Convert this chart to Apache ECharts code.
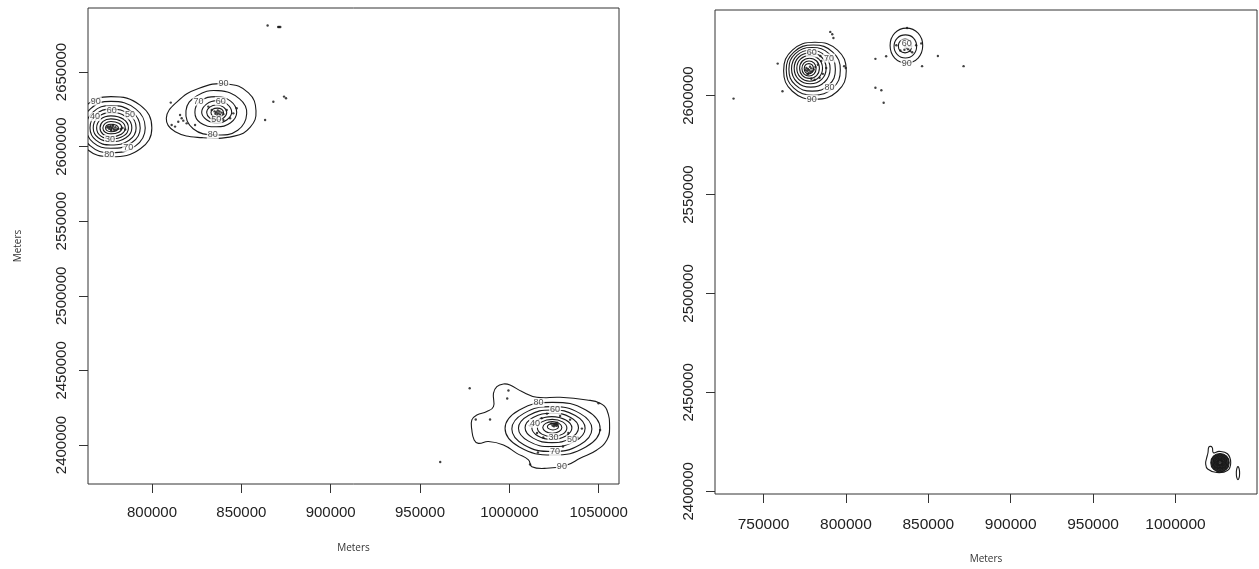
<!DOCTYPE html>
<html><head><meta charset="utf-8">
<script src="https://cdn.jsdelivr.net/npm/echarts@6/dist/echarts.min.js"></script>
<style>html,body{margin:0;padding:0;background:#fff}#c{width:1259px;height:569px}</style>
</head><body><div id="c"></div>
<script>
// ---- tick labels ----
const leftXTicks=[800000,850000,900000,950000,1000000,1050000];
const leftYTicks=[2400000,2450000,2500000,2550000,2600000,2650000];
const rightXTicks=[750000,800000,850000,900000,950000,1000000];
const rightYTicks=[2400000,2450000,2500000,2550000,2600000];
const axisTitle='Meters';
const leftXRange=[764170,1061370], leftYRange=[2373860,2692900];
const rightXRange=[720550,1049450], rightYRange=[2398650,2643280];

// ---- relocation points (km) ----
const leftPointsKm=[[810.5,2629.5],[815.7,2621.2],[816.6,2619.0],[817.5,2617.4],[814.7,2616.7],[819.4,2615.6],[824.1,2614.5],[812.9,2613.4],[811.0,2614.5],[831.5,2626.8],[833.4,2624.5],[841.8,2624.5],[845.5,2622.3],[847.4,2625.7],[843.7,2619.0],[839.9,2617.8],[834.3,2619.0],[863.3,2617.8],[867.9,2630.1],[873.9,2633.5],[875.0,2632.4],[864.7,2681.2],[870.6,2680.2],[871.2,2680.2],[871.8,2680.2],[977.8,2438.0],[999.5,2436.5],[998.8,2431.2],[981.2,2417.1],[989.2,2417.1],[961.3,2388.6],
[837,2622.3],[836,2623],[838,2621.5],[836.5,2621],[837.8,2623.5],[835.5,2622],[839,2622.8],[838.5,2620.5],[836.8,2624.2],[840,2621.8],[835,2623.6],
[776.5,2613],[777.5,2612.5],[778,2613.5],[776,2612],[777,2611.5],[778.5,2612],[775.5,2613.5],[779,2611],[780,2611.5],[781,2612],[782.5,2611.8],[776.8,2614],[778.2,2614.5],[775,2612.8],[779.5,2613],[777.2,2610.8],[783.5,2612.5],[785,2611.5],
[1025.6,2413.4],[1024.8,2414],[1026.4,2412.8],[1025,2412.5],[1026,2414.5],[1027,2413.8],[1024.2,2413],[1026.8,2415],[1023.5,2414.3],[1011.6,2413],[1018,2418],[1028.4,2419.5],[1034,2417],[1040.6,2411],[1038,2405],[1019,2405],[1015.5,2408],[1049.9,2428],[1050.8,2410.1],[1011.6,2387],[1016,2395],[1030,2399],[1021,2421],[1033,2408]];
const rightPointsKm=[[731.8,2598.5],[758.6,2616.2],[761.5,2602.2],[790.5,2632.2],[791.7,2631.0],[792.4,2629.1],[798.9,2614.9],[799.9,2614.0],[817.9,2618.6],[824.4,2619.9],[817.9,2604.0],[821.5,2602.7],[822.9,2596.4],[837.1,2634.2],[846.2,2614.9],[855.8,2620.0],[871.4,2614.9],[830.6,2625.5],[833,2622.8],[842.6,2625.5],[845.7,2626.4],[840.2,2621.9],[836.9,2624.1],[836,2624.8],[837.8,2623.5],[838.5,2625],[835.5,2623.2],[839,2622.5],
[777.8,2612.8],[777,2613.5],[778.5,2612],[776.5,2612.5],[779,2613.8],[776,2614],[778.2,2614.6],[777.3,2611.5],[779.5,2612.3],[775.5,2613],[780.5,2613.2],[776.8,2610.8],[781.5,2614.5],[783,2615.6],[785,2617.5],[786,2611],[784,2609],[788,2614],[781,2608],[779,2608.5],[784.5,2620],
[1027,2414.5],[1026,2415],[1028,2414],[1026.5,2413.5],[1027.5,2415.5],[1025.5,2414]];

// ---- kernel contour rings (km) ----
const leftRingsKm=[
[[799.9,2612.5],[793.5,2627.6],[777,2633.5],[763.3,2627.6],[758,2612.5],[763.3,2598.6],[777,2593.2],[793.5,2598.6]],
[[796.2,2612.5],[790.8,2625.3],[777,2630.3],[765.5,2625.3],[761,2612.5],[765.5,2600.5],[777,2595.9],[790.8,2600.5]],
[[793.4,2612.5],[788.8,2623.3],[777,2627.5],[767.1,2623.3],[763.2,2612.5],[767.1,2602.7],[777,2598.9],[788.8,2602.7]],
[[791.1,2612.5],[787.2,2621.6],[777,2625.1],[768.6,2621.6],[765.3,2612.5],[768.6,2604.3],[777,2601.1],[787.2,2604.3]],
[[788.7,2612.5],[785.4,2619.9],[777,2622.8],[769.9,2619.9],[767.1,2612.5],[769.9,2605.9],[777,2603.3],[785.4,2605.9]],
[[786.8,2612.5],[784.1,2618.3],[777,2620.6],[771.2,2618.3],[769,2612.5],[771.2,2607.2],[777,2605.1],[784.1,2607.2]],
[[785,2612.5],[782.8,2616.9],[777,2618.6],[772.6,2616.9],[770.9,2612.5],[772.6,2608.3],[777,2606.6],[782.8,2608.3]],
[[783.1,2612.5],[781.4,2615.6],[777,2616.8],[773.8,2615.6],[772.5,2612.5],[773.8,2609.6],[777,2608.5],[781.4,2609.6]],
[[781.2,2612.5],[780,2614.3],[777,2615],[774.8,2614.3],[774,2612.5],[774.8,2610.7],[777,2610],[780,2610.7]],
[[858.2,2624],[854,2636],[842,2642],[826,2639],[814,2630],[808,2619],[813,2610],[828,2606],[846,2607],[855,2613]],
[[853,2622],[849,2632],[837,2637.5],[825,2634],[819,2624],[823,2612],[836,2607.8],[848,2611]],
[[847.4,2623],[844,2630.5],[836,2633.5],[827,2630.5],[824,2623],[827,2616],[836,2613.3],[844,2616]],
[[844.6,2623],[842,2628.5],[836.5,2630.8],[830.5,2628.5],[827.8,2623],[830.5,2618],[836.5,2615.6],[842,2618]],
[[841.8,2622.8],[840,2626.5],[836.2,2627.9],[832.3,2626.5],[830.6,2622.8],[832.3,2619.2],[836.2,2617.8],[840,2619.2]],
[[840,2622.8],[839,2625],[836.5,2625.8],[834,2625],[833,2622.8],[834,2620.5],[836.5,2619.8],[839,2620.5]],
[[996.7,2440.9],[1000.4,2440.2],[1007.0,2435.8],[1015.4,2432.0],[1028.4,2432.0],[1043.4,2430.2],[1050.8,2428.0],[1054.6,2423.5],[1056.1,2411.2],[1054.6,2403.4],[1049.0,2396.7],[1039.6,2391.1],[1032.2,2386.6],[1020.9,2384.4],[1012.6,2385.5],[1010.7,2390.0],[1004.2,2394.4],[996.7,2400.0],[988.3,2402.3],[982.7,2401.1],[980.3,2403.4],[979.0,2410.1],[979.0,2416.8],[981.8,2420.1],[987.4,2422.4],[991.1,2425.7],[991.1,2434.6],[993.0,2439.1]],
[[1050.8,2411],[1042.8,2423.4],[1024.2,2428.6],[1005.6,2423.4],[997.6,2411],[1005.6,2398.6],[1024.2,2393.3],[1042.8,2398.6]],
[[1046.2,2410.7],[1039.5,2421.2],[1023.8,2425.7],[1008.1,2421.2],[1001.4,2410.7],[1008.1,2400.2],[1023.8,2395.6],[1039.5,2400.2]],
[[1042.4,2411.2],[1036.9,2419.8],[1023.8,2423.5],[1010.7,2419.8],[1005.1,2411.2],[1010.7,2402.6],[1023.8,2398.9],[1036.9,2402.6]],
[[1038.7,2411.5],[1034.3,2418.4],[1023.8,2421.3],[1013.3,2418.4],[1008.8,2411.5],[1013.3,2404.6],[1023.8,2401.6],[1034.3,2404.6]],
[[1035,2411.4],[1031.6,2416.7],[1023.8,2419],[1016,2416.7],[1012.6,2411.4],[1016,2406.1],[1023.8,2403.8],[1031.6,2406.1]],
[[1032.2,2411.4],[1029.8,2415.5],[1024,2417.2],[1018.2,2415.5],[1015.7,2411.4],[1018.2,2407.3],[1024,2405.6],[1029.8,2407.3]],
[[1029.4,2411.8],[1027.8,2414.5],[1024,2415.7],[1020.3,2414.5],[1018.7,2411.8],[1020.3,2409.1],[1024,2407.9],[1027.8,2409.1]],
[[1027.5,2412.3],[1026.6,2413.8],[1024.4,2414.5],[1022.2,2413.8],[1021.3,2412.3],[1022.2,2410.8],[1024.4,2410.1],[1026.6,2410.8]]
];
const rightRingsKm=[
[[800.2,2612.6],[794.9,2623],[781.2,2627],[767.5,2623],[762.2,2612.6],[767.5,2602.2],[781.2,2598.2],[794.9,2602.2]],
[[796.6,2612.9],[792,2622],[780.2,2625.6],[768.4,2622],[763.8,2612.9],[768.4,2603.8],[780.2,2600.2],[792,2603.8]],
[[793.6,2613.3],[789.7,2621.2],[779.5,2624.3],[769.3,2621.2],[765.4,2613.3],[769.3,2605.4],[779.5,2602.3],[789.7,2605.4]],
[[790.4,2613.6],[787.1,2620.3],[778.7,2622.9],[770.3,2620.3],[767,2613.6],[770.3,2606.9],[778.7,2604.3],[787.1,2606.9]],
[[788,2613.8],[785.3,2619.4],[778.3,2621.6],[771.3,2619.4],[768.6,2613.8],[771.3,2608.2],[778.3,2606],[785.3,2608.2]],
[[785.8,2613.8],[783.6,2618.4],[778,2620.2],[772.4,2618.4],[770.2,2613.8],[772.4,2609.2],[778,2607.3],[783.6,2609.2]],
[[783.9,2613.8],[782.2,2617.5],[777.9,2618.9],[773.6,2617.5],[771.9,2613.8],[773.6,2610.1],[777.9,2608.7],[782.2,2610.1]],
[[781.9,2613.7],[780.7,2616.4],[777.6,2617.5],[774.5,2616.4],[773.3,2613.7],[774.5,2611],[777.6,2609.9],[780.7,2611]],
[[780.3,2613.6],[779.5,2615.5],[777.5,2616.2],[775.5,2615.5],[774.7,2613.6],[775.5,2611.7],[777.5,2611],[779.5,2611.7]],
[[846.6,2625.3],[843.8,2631.6],[836.7,2634.1],[829.6,2631.6],[826.8,2625.3],[829.6,2619],[836.7,2616.5],[843.8,2619]],
[[842.9,2624.9],[841,2629.1],[836.1,2630.7],[831.2,2629.1],[829.2,2624.9],[831.2,2620.7],[836.1,2619],[841,2620.7]],
[[839.9,2625.1],[838.8,2627.6],[835.9,2628.6],[832.9,2627.6],[831.8,2625.1],[832.9,2622.6],[835.9,2621.6],[838.8,2622.6]],
[[1033.5,2414.5],[1031.5,2419],[1026.5,2420.2],[1023,2419.5],[1022.2,2422.3],[1020.3,2422.5],[1019.7,2419.5],[1018.8,2416.5],[1018.3,2414],[1019.5,2411.3],[1025,2409.5],[1031.5,2410.5]],
[[1032.6,2414.5],[1031,2417.8],[1027,2419.1],[1023,2417.8],[1021.4,2414.5],[1023,2411.2],[1027,2409.9],[1031,2411.2]],
[[1032.2,2414.5],[1030.8,2417.6],[1027,2418.8],[1023.2,2417.6],[1021.8,2414.5],[1023.2,2411.4],[1027,2410.2],[1030.8,2411.4]],
[[1031.8,2414.5],[1030.5,2417.4],[1027,2418.5],[1023.5,2417.4],[1022.2,2414.5],[1023.5,2411.6],[1027,2410.5],[1030.5,2411.6]],
[[1031.4,2414.5],[1030.2,2417.1],[1027,2418.2],[1023.8,2417.1],[1022.6,2414.5],[1023.8,2411.9],[1027,2410.8],[1030.2,2411.9]],
[[1031.1,2414.5],[1030,2416.9],[1027,2417.9],[1024,2416.9],[1022.9,2414.5],[1024,2412.1],[1027,2411.1],[1030,2412.1]],
[[1030.7,2414.5],[1029.7,2416.7],[1027,2417.6],[1024.3,2416.7],[1023.3,2414.5],[1024.3,2412.3],[1027,2411.4],[1029.7,2412.3]],
[[1030.4,2414.5],[1029.4,2416.5],[1027,2417.3],[1024.6,2416.5],[1023.6,2414.5],[1024.6,2412.5],[1027,2411.7],[1029.4,2412.5]],
[[1030,2414.5],[1029.1,2416.3],[1027,2417],[1024.9,2416.3],[1024,2414.5],[1024.9,2412.7],[1027,2412],[1029.1,2412.7]],
[[1029.7,2414.5],[1028.9,2416.1],[1027,2416.7],[1025.1,2416.1],[1024.3,2414.5],[1025.1,2412.9],[1027,2412.3],[1028.9,2412.9]],
[[1029.3,2414.5],[1028.6,2415.9],[1027,2416.4],[1025.4,2415.9],[1024.7,2414.5],[1025.4,2413.1],[1027,2412.6],[1028.6,2413.1]],
[[1029,2414.5],[1028.4,2415.7],[1027,2416.2],[1025.6,2415.7],[1025,2414.5],[1025.6,2413.3],[1027,2412.8],[1028.4,2413.3]],
[[1028.7,2414.5],[1028.2,2415.5],[1027,2415.9],[1025.8,2415.5],[1025.3,2414.5],[1025.8,2413.5],[1027,2413.1],[1028.2,2413.5]],
[[1028.4,2414.5],[1028,2415.4],[1027,2415.7],[1026,2415.4],[1025.6,2414.5],[1026,2413.6],[1027,2413.3],[1028,2413.6]],
[[1028.1,2414.5],[1027.8,2415.2],[1027,2415.4],[1026.2,2415.2],[1025.9,2414.5],[1026.2,2413.8],[1027,2413.6],[1027.8,2413.8]],
[[1038.9,2409.2],[1038.6,2411.5],[1037.9,2412.5],[1037.2,2411.5],[1036.9,2409.2],[1037.2,2406.9],[1037.9,2405.9],[1038.6,2406.9]]
];
// ---- contour labels (km, text) ----
const leftLabelsKm=[[768.5,2630.5,'90'],[777.4,2624.5,'60'],[768.1,2620.1,'40'],[787.7,2621.2,'50'],[776.5,2605,'30'],[786.7,2599.5,'70'],[776,2594.5,'80'],
[840,2642,'90'],[834,2608,'80'],[826,2630.5,'70'],[838.5,2630.5,'60'],[836,2618,'50'],
[1016.3,2428.3,'80'],[1025.6,2423.5,'60'],[1014.4,2414.5,'40'],[1024.7,2405,'30'],[1035,2403.5,'50'],[1025.6,2395.6,'70'],[1029.4,2385.5,'90']];
const rightLabelsKm=[[779.3,2598.2,'90'],[790,2604,'80'],[779.3,2621.6,'60'],[789.8,2619,'70'],[836.9,2616,'90'],[836.9,2626.2,'60']];

const KM=1000;
const tickFont='"Liberation Sans", Arial, sans-serif';
const titleFont='"Open Sans", "Noto Sans", sans-serif';
function xAx(gi,range,ticks,gap,fs,margin){
  return {type:'value',gridIndex:gi,min:range[0],max:range[1],name:axisTitle,nameLocation:'middle',nameGap:gap,
    nameTextStyle:{fontSize:10,color:'#333',fontFamily:titleFont},
    axisLine:{show:false},splitLine:{show:false},
    axisTick:{show:true,length:9,customValues:ticks,lineStyle:{color:'#333'}},
    axisLabel:{customValues:ticks,formatter:v=>String(v),fontSize:fs,color:'#222',margin:margin,fontFamily:tickFont}};
}
function yAx(gi,range,ticks,name,gap,margin){
  return {type:'value',gridIndex:gi,min:range[0],max:range[1],name:name,nameLocation:'middle',nameGap:gap,
    nameTextStyle:{fontSize:10,color:'#333',fontFamily:titleFont},
    axisLine:{show:false},splitLine:{show:false},
    axisTick:{show:true,length:9,customValues:ticks,lineStyle:{color:'#333'}},
    axisLabel:{customValues:ticks,formatter:v=>String(v),rotate:90,fontSize:15,color:'#222',margin:margin,fontFamily:tickFont}};
}
function ringSeries(gi,rings){
  return {type:'custom',xAxisIndex:gi,yAxisIndex:gi,clip:true,silent:true,z:3,
    data:rings.map((r,i)=>[r[0][0]*KM,r[0][1]*KM,i]),
    renderItem:(params,api)=>{
      const ring=rings[params.dataIndex];
      const pts=ring.map(p=>api.coord([p[0]*KM,p[1]*KM]));
      return {type:'polygon',shape:{points:pts,smooth:0.45},style:{fill:'none',stroke:'#1a1a1a',lineWidth:1.1}};
    }};
}
function pointSeries(gi,pts){
  return {type:'scatter',xAxisIndex:gi,yAxisIndex:gi,clip:true,silent:true,z:2,symbol:'circle',symbolSize:2.4,
    itemStyle:{color:'#111'},data:pts.map(p=>[p[0]*KM,p[1]*KM])};
}
function labelSeries(gi,labs){
  return {type:'scatter',xAxisIndex:gi,yAxisIndex:gi,clip:true,silent:true,z:6,symbolSize:0.1,
    itemStyle:{color:'rgba(0,0,0,0)'},
    label:{show:true,position:'inside',formatter:p=>p.data[2],fontSize:9,color:'#222',fontFamily:tickFont,
      backgroundColor:'#fff',padding:[0,1],lineHeight:9},
    data:labs.map(l=>[l[0]*KM,l[1]*KM,l[2]])};
}
const chart=echarts.init(document.getElementById('c'),null,{renderer:'canvas'});
chart.setOption({
  animation:false,backgroundColor:'#fff',
  grid:[{left:88,top:8,width:531,height:476,show:true,borderColor:'#333',borderWidth:1,backgroundColor:'transparent'},
        {left:715,top:10,width:542,height:488,show:true,borderColor:'#333',borderWidth:1,backgroundColor:'transparent'}],
  xAxis:[xAx(0,leftXRange,leftXTicks,59,15,21),xAx(1,rightXRange,rightXTicks,60,15.5,23)],
  yAxis:[yAx(0,leftYRange,leftYTicks,axisTitle,65,19),yAx(1,rightYRange,rightYTicks,'',40,19)],
  series:[pointSeries(0,leftPointsKm),ringSeries(0,leftRingsKm),labelSeries(0,leftLabelsKm),
          pointSeries(1,rightPointsKm),ringSeries(1,rightRingsKm),labelSeries(1,rightLabelsKm)]
});
</script></body></html>
